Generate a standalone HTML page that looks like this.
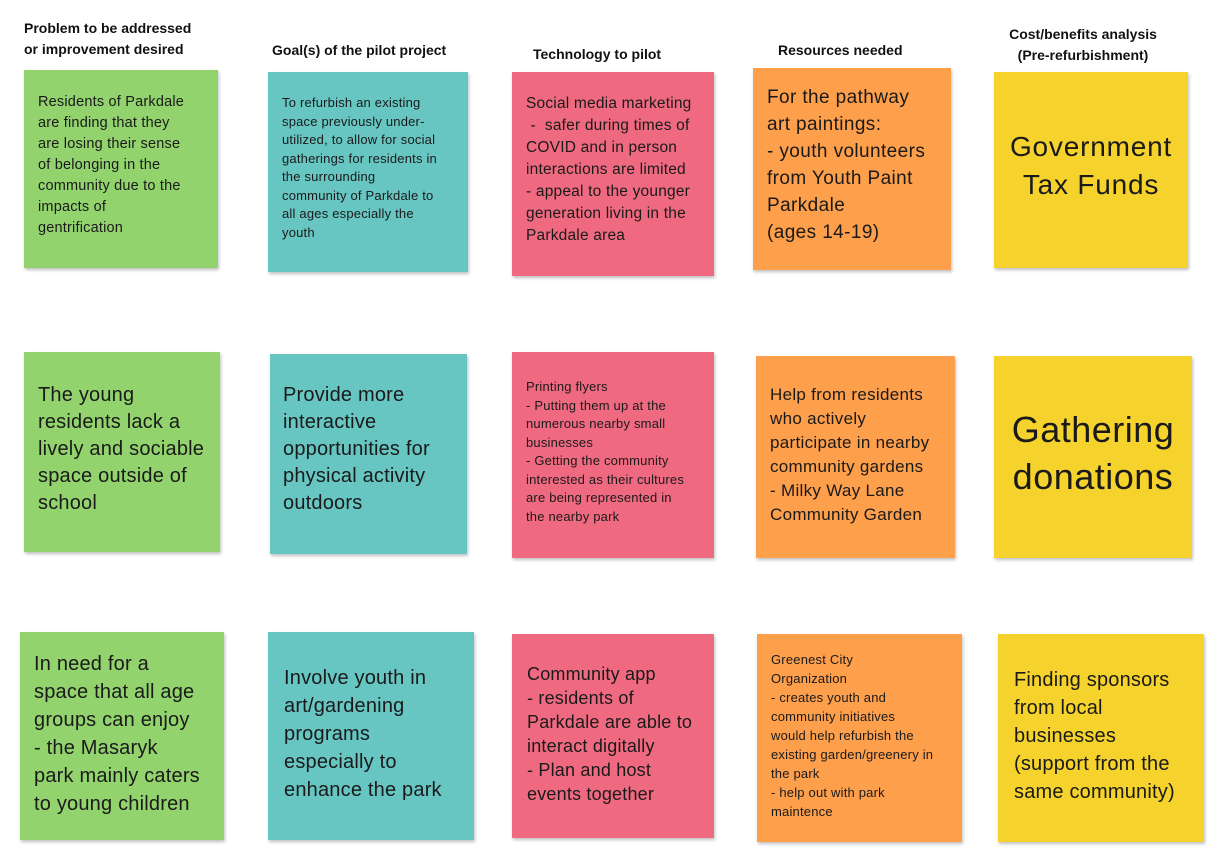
<!DOCTYPE html>
<html><head><meta charset="utf-8"><style>
body{margin:0;width:1224px;height:866px;background:#fff;font-family:"Liberation Sans",sans-serif;position:relative;overflow:hidden;color:#1a1a1a}
.h{position:absolute;font-weight:bold;font-size:14px;line-height:21px;color:#111}
.n{position:absolute;box-sizing:border-box;box-shadow:1px 2px 3px rgba(0,0,0,.25)}
.g{background:#92d36e}.t{background:#67c6c2}.p{background:#ef6a80}.o{background:#fd9f4b}.y{background:#f5d22c}
.n div{position:absolute;white-space:nowrap;letter-spacing:0.2px}
</style></head><body>
<div class="h" style="left:24px;top:18px">Problem to be addressed<br>or improvement desired</div>
<div class="h" style="left:272px;top:40px">Goal(s) of the pilot project</div>
<div class="h" style="left:533px;top:44px">Technology to pilot</div>
<div class="h" style="left:778px;top:40px">Resources needed</div>
<div class="h" style="left:1003px;top:24px;text-align:center;width:160px">Cost/benefits analysis<br>(Pre-refurbishment)</div>

<div class="n g" style="left:24px;top:70px;width:194px;height:198px"><div style="left:14px;top:22px;font-size:14.5px;line-height:21px">Residents of Parkdale<br>are finding that they<br>are losing their sense<br>of belonging in the<br>community due to the<br>impacts of<br>gentrification</div></div>
<div class="n t" style="left:268px;top:72px;width:200px;height:200px"><div style="left:14px;top:22px;font-size:13px;line-height:18.5px">To refurbish an existing<br>space previously under-<br>utilized, to allow for social<br>gatherings for residents in<br>the surrounding<br>community of Parkdale to<br>all ages especially the<br>youth</div></div>
<div class="n p" style="left:512px;top:72px;width:202px;height:204px"><div style="left:14px;top:21px;font-size:15.5px;line-height:22px">Social media marketing<br>&nbsp;- &nbsp;safer during times of<br>COVID and in person<br>interactions are limited<br>- appeal to the younger<br>generation living in the<br>Parkdale area</div></div>
<div class="n o" style="left:753px;top:68px;width:198px;height:202px"><div style="left:14px;top:16px;font-size:19px;line-height:27px;letter-spacing:0.4px">For the pathway<br>art paintings:<br>- youth volunteers<br>from Youth Paint<br>Parkdale<br>(ages 14-19)</div></div>
<div class="n y" style="left:994px;top:72px;width:194px;height:196px"><div style="left:0;right:0;top:56px;text-align:center;font-size:28px;line-height:38px;letter-spacing:0.8px">Government<br>Tax Funds</div></div>

<div class="n g" style="left:24px;top:352px;width:196px;height:200px"><div style="left:14px;top:30px;font-size:20px;line-height:27px">The young<br>residents lack a<br>lively and sociable<br>space outside of<br>school</div></div>
<div class="n t" style="left:270px;top:354px;width:197px;height:200px"><div style="left:13px;top:28px;font-size:20px;line-height:27px">Provide more<br>interactive<br>opportunities for<br>physical activity<br>outdoors</div></div>
<div class="n p" style="left:512px;top:352px;width:202px;height:206px"><div style="left:14px;top:26px;font-size:13px;line-height:18.5px">Printing flyers<br>- Putting them up at the<br>numerous nearby small<br>businesses<br>- Getting the community<br>interested as their cultures<br>are being represented in<br>the nearby park</div></div>
<div class="n o" style="left:756px;top:356px;width:199px;height:202px"><div style="left:14px;top:27px;font-size:17px;line-height:24px;letter-spacing:0.3px">Help from residents<br>who actively<br>participate in nearby<br>community gardens<br>- Milky Way Lane<br>Community Garden</div></div>
<div class="n y" style="left:994px;top:356px;width:198px;height:202px"><div style="left:0;right:0;top:50px;text-align:center;font-size:36px;line-height:47px;letter-spacing:0.5px">Gathering<br>donations</div></div>

<div class="n g" style="left:20px;top:632px;width:204px;height:208px"><div style="left:14px;top:18px;font-size:20px;line-height:28px">In need for a<br>space that all age<br>groups can enjoy<br>- the Masaryk<br>park mainly caters<br>to young children</div></div>
<div class="n t" style="left:268px;top:632px;width:206px;height:208px"><div style="left:16px;top:32px;font-size:20px;line-height:28px">Involve youth in<br>art/gardening<br>programs<br>especially to<br>enhance the park</div></div>
<div class="n p" style="left:512px;top:634px;width:202px;height:204px"><div style="left:15px;top:28px;font-size:18px;line-height:24px">Community app<br>- residents of<br>Parkdale are able to<br>interact digitally<br>- Plan and host<br>events together</div></div>
<div class="n o" style="left:757px;top:634px;width:205px;height:208px"><div style="left:14px;top:16px;font-size:13px;line-height:19px">Greenest City<br>Organization<br>- creates youth and<br>community initiatives<br>would help refurbish the<br>existing garden/greenery in<br>the park<br>- help out with park<br>maintence</div></div>
<div class="n y" style="left:998px;top:634px;width:206px;height:208px"><div style="left:16px;top:32px;font-size:20px;line-height:28px">Finding sponsors<br>from local<br>businesses<br>(support from the<br>same community)</div></div>
</body></html>
